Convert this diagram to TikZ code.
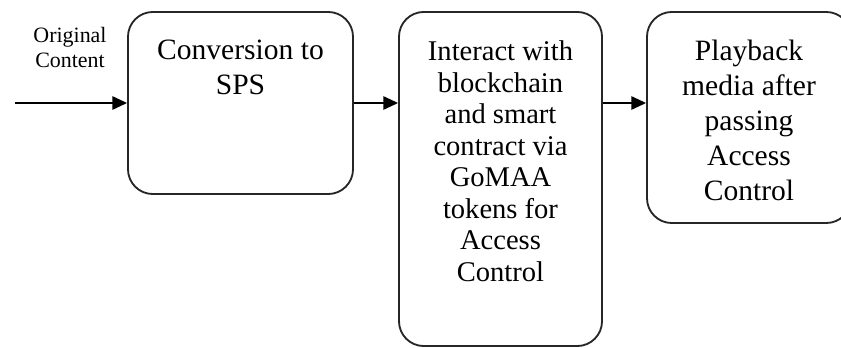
\documentclass[tikz,border=0pt]{standalone}
\usepackage{fontspec}
\setmainfont{Liberation Serif}
\usetikzlibrary{arrows}
\usetikzlibrary{arrows.meta}

\begin{document}
\begin{tikzpicture}[x=0.025cm,y=-0.025cm,
  blk/.style={draw=black!85,line width=1.3pt,rounded corners=0.62cm,inner sep=0pt},
  txt/.style={align=center,anchor=north,inner sep=0pt},
  flow/.style={line width=1.3pt,arrows={-Triangle[length=10.5pt,width=9.5pt]}}]
\useasboundingbox (0,0) rectangle (841,348);
\clip (0,0) rectangle (841,348);
\node[blk,minimum width=5.625cm,minimum height=4.55cm] (a) at (240.5,103) {};
\node[blk,minimum width=5.075cm,minimum height=8.35cm] (b) at (500.5,179) {};
\node[blk,minimum width=5.1cm,minimum height=5.275cm] (c) at (749,117.5) {};
\node[txt,font=\fontsize{21}{24.9}\selectfont] (ta) at (240.5,40) {Conversion to\\SPS};
\node[txt,font=\fontsize{20.3}{22.4}\selectfont] (tb) at (500.5,40.5) {Interact with\\blockchain\\and smart\\contract via\\GoMAA\\tokens for\\Access\\Control};
\node[txt,font=\fontsize{21}{24.9}\selectfont] (tc) at (749,40) {Playback\\media after\\passing\\Access\\Control};
\node[txt,font=\fontsize{15.6}{17.8}\selectfont] (o) at (70,27) {Original\\Content};
\coordinate (s) at (15,103);
\draw[flow] (s) -- (a.west);
\draw[flow] (a.east) -- (a.east -| b.west);
\draw[flow] (b.east |- a.east) -- (c.west |- a.east);
\end{tikzpicture}
\end{document}
